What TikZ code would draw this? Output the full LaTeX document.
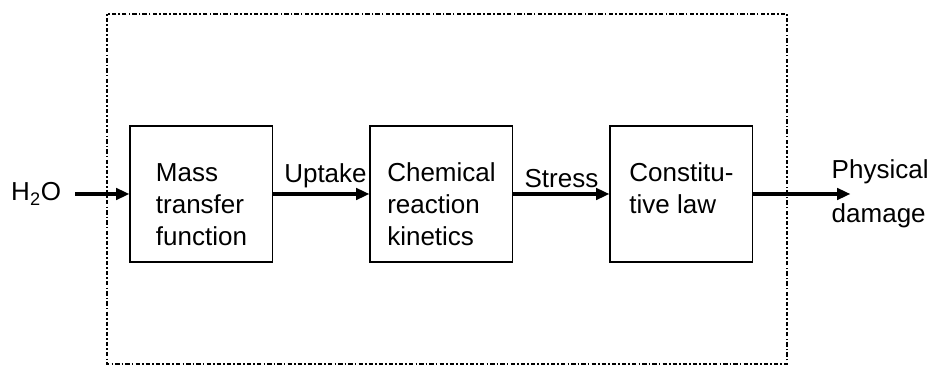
\documentclass[tikz,border=0pt]{standalone}
\usepackage{fontspec}
\setmainfont{Liberation Sans}
\usetikzlibrary{arrows.meta, positioning}

\begin{document}
\begin{tikzpicture}[node distance=180pt,on grid,
		font=\fontsize{19.5}{24}\selectfont,
		block/.style={draw, line width=1pt, minimum width=107pt, inner xsep=0pt, inner ysep=0pt, text height=42pt, text depth=60pt},
		flow/.style={line width=3pt, -{Triangle[length=10pt,width=8.5pt]}}]
		\useasboundingbox (-151.1pt,145.5pt) rectangle (549.4pt,-129pt);
		\draw[line width=1.8pt, dash pattern=on 1.2pt off 1.6pt on 3.2pt off 1.6pt] (-70.9pt,135pt) rectangle (439.1pt,-127.5pt);
		\node[block] (mt) {\begin{tabular}[t]{@{}l@{}}Mass\\transfer\\function\end{tabular}};
		\node[block] (cr) [right of=mt] {\begin{tabular}[t]{@{}l@{}}Chemical\\reaction\\kinetics\end{tabular}};
		\node[block] (cl) [right of=cr] {\begin{tabular}[t]{@{}l@{}}Constitu-\\tive law\end{tabular}};
		\node (h2o) [left of=mt, node distance=124pt] {H\textsubscript{2}O};
		\coordinate[right of=cl, node distance=126.75pt] (out);
		\node[align=left, font=\fontsize{19.5}{33}\selectfont] (dmg) [right of=cl, node distance=149pt] {Physical\\damage};
		\draw[flow]
			(h2o) edge [shorten <=7pt] (mt)
			(mt) edge node [above, xshift=3pt] {Uptake} (cr)
			(cr) edge node [above] {Stress} (cl)
			(cl) edge (out);
		\end{tikzpicture}
\end{document}
